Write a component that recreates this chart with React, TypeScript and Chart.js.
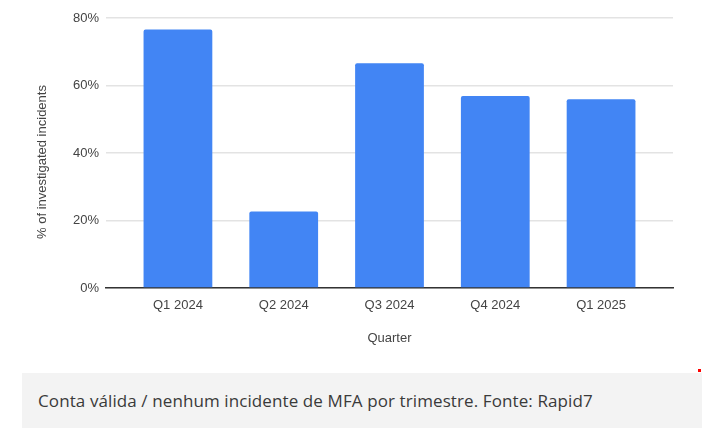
import { Chart, registerables } from "chart.js";
import { useEffect, useRef } from "react";

Chart.register(...registerables);

const quarters = ["Q1 2024", "Q2 2024", "Q3 2024", "Q4 2024", "Q1 2025"];
const shares = [76.6, 22.7, 66.6, 56.9, 55.9];
const yTicks = [0, 20, 40, 60, 80];
const caption = "Conta válida / nenhum incidente de MFA por trimestre. Fonte: Rapid7";

const tickFont = { family: "'Liberation Sans', Arial, sans-serif", size: 13 };

const MfaChart = () => {
  const chartRef = useRef<HTMLCanvasElement>(null);

  useEffect(() => {
    let chart: Chart | null = null;
    if (chartRef.current) {
      const ctx = chartRef.current.getContext("2d") as CanvasRenderingContext2D;
      chart = new Chart(ctx, {
        type: "bar",
        data: {
          datasets: [
            {
              label: "% of investigated incidents",
              data: shares.map((v, i) => ({ x: i, y: v })),
              backgroundColor: "#4285f4",
              borderRadius: 2,
              barPercentage: 0.65,
              categoryPercentage: 1,
            },
          ],
        },
        options: {
          animation: false,
          responsive: false,
          layout: { padding: { left: 0, right: 45, top: 18, bottom: 0 } },
          plugins: { legend: { display: false }, tooltip: { enabled: false } },
          scales: {
            x: {
              type: "linear",
              offset: false,
              min: -0.68,
              max: quarters.length - 1 + 0.68,
              grid: { display: false },
              border: { color: "#333", width: 1.5 },
              afterBuildTicks: (scale) => {
                scale.ticks = scale.ticks.filter((t) => Number.isInteger(t.value));
              },
              afterFit: (scale) => {
                scale.height = 72;
              },
              ticks: {
                stepSize: 1,
                autoSkip: false,
                maxRotation: 0,
                padding: 2,
                color: "#444",
                font: tickFont,
                callback: (v) =>
                  Number.isInteger(v) && quarters[v as number] ? quarters[v as number] : "",
              },
              title: {
                display: true,
                text: "Quarter",
                color: "#444",
                font: tickFont,
                padding: { top: 0, bottom: 14 },
              },
            },
            y: {
              min: yTicks[0],
              max: yTicks[yTicks.length - 1],
              grid: { color: "#e3e3e3", lineWidth: 1.5, drawTicks: false },
              border: { display: false },
              afterFit: (scale) => {
                scale.width = 106;
              },
              ticks: {
                stepSize: yTicks[1] - yTicks[0],
                padding: 7,
                color: "#444",
                font: tickFont,
                callback: (v) => `${v}%`,
              },
              title: {
                display: true,
                text: "% of investigated incidents     ",
                color: "#444",
                font: tickFont,
                padding: { top: 35, bottom: 0 },
              },
            },
          },
        },
      });
    }
    return () => {
      if (chart) {
        chart.destroy();
      }
    };
  }, []);

  return <canvas ref={chartRef} width={718} height={360} style={{ display: "block" }} />;
};

const App = () => (
  <div
    style={{
      position: "absolute",
      left: 0,
      top: 0,
      width: 718,
      height: 433,
      background: "#fff",
      overflow: "hidden",
    }}
  >
    <MfaChart />
    <div
      style={{
        position: "absolute",
        left: 698,
        top: 369,
        width: 3,
        height: 3,
        background: "#f00",
      }}
    />
    <div
      style={{
        position: "absolute",
        left: 22,
        top: 373,
        width: 680,
        height: 55,
        background: "#f3f3f3",
        boxSizing: "border-box",
        paddingLeft: 16,
        display: "flex",
        alignItems: "center",
        fontFamily: "'Open Sans', sans-serif",
        fontSize: 17,
        letterSpacing: 0.1,
        color: "#3a3a3a",
        whiteSpace: "nowrap",
      }}
    >
      {caption}
    </div>
  </div>
);

export default App;
